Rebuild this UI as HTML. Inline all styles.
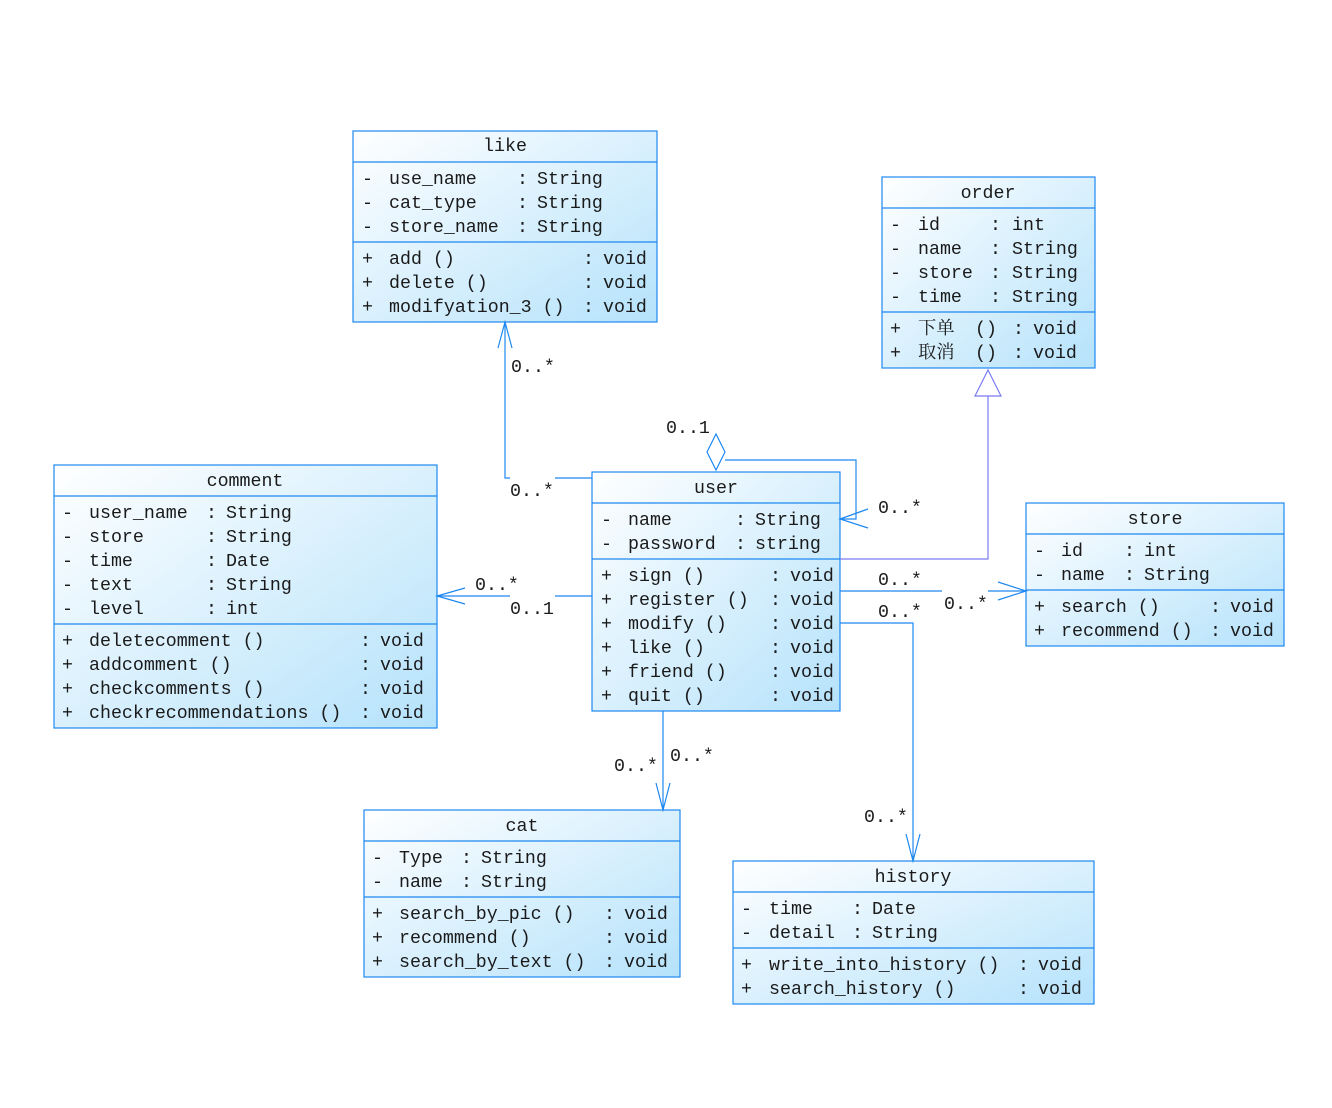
<!DOCTYPE html>
<html><head><meta charset="utf-8"><style>
html,body{margin:0;padding:0;background:#fff;width:1332px;height:1108px;overflow:hidden}
svg text{font-family:"Liberation Mono","Noto Serif CJK SC",monospace;font-size:18.3px;fill:#1a1a1a}
</style></head><body>
<svg width="1332" height="1108" xmlns="http://www.w3.org/2000/svg">
<defs>
<linearGradient id="g" x1="0" y1="0" x2="1" y2="1">
<stop offset="0" stop-color="#ffffff"/><stop offset="1" stop-color="#b5e2fb"/>
</linearGradient>
</defs>
<g stroke="#1e88f0" stroke-width="1.2" fill="url(#g)">
<rect x="353" y="131" width="304" height="191"/>
<rect x="882" y="177" width="213" height="191"/>
<rect x="54" y="465" width="383" height="263"/>
<rect x="592" y="472" width="248" height="239"/>
<rect x="1026" y="503" width="258" height="143"/>
<rect x="364" y="810" width="316" height="167"/>
<rect x="733" y="861" width="361" height="143"/>
</g>
<g stroke="#1e88f0" stroke-width="1.2" fill="none">
<path d="M353 162H657M353 242H657"/>
<path d="M882 208H1095M882 312H1095"/>
<path d="M54 496H437M54 624H437"/>
<path d="M592 503H840M592 559H840"/>
<path d="M1026 534H1284M1026 590H1284"/>
<path d="M364 841H680M364 897H680"/>
<path d="M733 892H1094M733 948H1094"/>
<!-- like-user -->
<path d="M505 322V478H510M555 478H592"/>
<path d="M498 348L505 322L512 348"/>
<!-- aggregation -->
<path d="M716 434L725 452L716 470L707 452Z" fill="#fff"/>
<path d="M725 460H856V519H840"/>
<path d="M868 509L840 519L868 528"/>
<!-- comment-user -->
<path d="M437 596H510M555 596H592"/>
<path d="M465 588L437 596L465 604"/>
<!-- user-store -->
<path d="M840 591H942M988 591H1026"/>
<path d="M998 582L1026 591L998 600"/>
<!-- user-history -->
<path d="M840 623H913V861"/>
<path d="M906 834L913 861L920 834"/>
<!-- user-cat -->
<path d="M663 711V810"/>
<path d="M656 783L663 810L670 783"/>
</g>
<g stroke="#7b7bf0" stroke-width="1.2" fill="none">
<path d="M840 559H988V396"/>
<path d="M988 370L1001 396H975Z" fill="#fff"/>
</g>
<!-- like -->
<text x="505" y="151" text-anchor="middle">like</text>
<text x="362" y="184">-</text><text x="389" y="184">use_name</text><text x="517" y="184">:</text><text x="537" y="184">String</text>
<text x="362" y="208">-</text><text x="389" y="208">cat_type</text><text x="517" y="208">:</text><text x="537" y="208">String</text>
<text x="362" y="232">-</text><text x="389" y="232">store_name</text><text x="517" y="232">:</text><text x="537" y="232">String</text>
<text x="362" y="264">+</text><text x="389" y="264">add ()</text><text x="583" y="264">:</text><text x="603" y="264">void</text>
<text x="362" y="288">+</text><text x="389" y="288">delete ()</text><text x="583" y="288">:</text><text x="603" y="288">void</text>
<text x="362" y="312">+</text><text x="389" y="312">modifyation_3 ()</text><text x="583" y="312">:</text><text x="603" y="312">void</text>
<!-- order -->
<text x="988" y="198" text-anchor="middle">order</text>
<text x="890" y="230">-</text><text x="918" y="230">id</text><text x="990" y="230">:</text><text x="1012" y="230">int</text>
<text x="890" y="254">-</text><text x="918" y="254">name</text><text x="990" y="254">:</text><text x="1012" y="254">String</text>
<text x="890" y="278">-</text><text x="918" y="278">store</text><text x="990" y="278">:</text><text x="1012" y="278">String</text>
<text x="890" y="302">-</text><text x="918" y="302">time</text><text x="990" y="302">:</text><text x="1012" y="302">String</text>
<text x="890" y="334">+</text><text x="918" y="334">下单</text><text x="975" y="334">()</text><text x="1013" y="334">:</text><text x="1033" y="334">void</text>
<text x="890" y="358">+</text><text x="918" y="358">取消</text><text x="975" y="358">()</text><text x="1013" y="358">:</text><text x="1033" y="358">void</text>
<!-- comment -->
<text x="245" y="486" text-anchor="middle">comment</text>
<text x="62" y="518">-</text><text x="89" y="518">user_name</text><text x="206" y="518">:</text><text x="226" y="518">String</text>
<text x="62" y="542">-</text><text x="89" y="542">store</text><text x="206" y="542">:</text><text x="226" y="542">String</text>
<text x="62" y="566">-</text><text x="89" y="566">time</text><text x="206" y="566">:</text><text x="226" y="566">Date</text>
<text x="62" y="590">-</text><text x="89" y="590">text</text><text x="206" y="590">:</text><text x="226" y="590">String</text>
<text x="62" y="614">-</text><text x="89" y="614">level</text><text x="206" y="614">:</text><text x="226" y="614">int</text>
<text x="62" y="646">+</text><text x="89" y="646">deletecomment ()</text><text x="360" y="646">:</text><text x="380" y="646">void</text>
<text x="62" y="670">+</text><text x="89" y="670">addcomment ()</text><text x="360" y="670">:</text><text x="380" y="670">void</text>
<text x="62" y="694">+</text><text x="89" y="694">checkcomments ()</text><text x="360" y="694">:</text><text x="380" y="694">void</text>
<text x="62" y="718">+</text><text x="89" y="718">checkrecommendations ()</text><text x="360" y="718">:</text><text x="380" y="718">void</text>
<!-- user -->
<text x="716" y="493" text-anchor="middle">user</text>
<text x="601" y="525">-</text><text x="628" y="525">name</text><text x="735" y="525">:</text><text x="755" y="525">String</text>
<text x="601" y="549">-</text><text x="628" y="549">password</text><text x="735" y="549">:</text><text x="755" y="549">string</text>
<text x="601" y="581">+</text><text x="628" y="581">sign ()</text><text x="770" y="581">:</text><text x="790" y="581">void</text>
<text x="601" y="605">+</text><text x="628" y="605">register ()</text><text x="770" y="605">:</text><text x="790" y="605">void</text>
<text x="601" y="629">+</text><text x="628" y="629">modify ()</text><text x="770" y="629">:</text><text x="790" y="629">void</text>
<text x="601" y="653">+</text><text x="628" y="653">like ()</text><text x="770" y="653">:</text><text x="790" y="653">void</text>
<text x="601" y="677">+</text><text x="628" y="677">friend ()</text><text x="770" y="677">:</text><text x="790" y="677">void</text>
<text x="601" y="701">+</text><text x="628" y="701">quit ()</text><text x="770" y="701">:</text><text x="790" y="701">void</text>
<!-- store -->
<text x="1155" y="524" text-anchor="middle">store</text>
<text x="1034" y="556">-</text><text x="1061" y="556">id</text><text x="1124" y="556">:</text><text x="1144" y="556">int</text>
<text x="1034" y="580">-</text><text x="1061" y="580">name</text><text x="1124" y="580">:</text><text x="1144" y="580">String</text>
<text x="1034" y="612">+</text><text x="1061" y="612">search ()</text><text x="1210" y="612">:</text><text x="1230" y="612">void</text>
<text x="1034" y="636">+</text><text x="1061" y="636">recommend ()</text><text x="1210" y="636">:</text><text x="1230" y="636">void</text>
<!-- cat -->
<text x="522" y="831" text-anchor="middle">cat</text>
<text x="372" y="863">-</text><text x="399" y="863">Type</text><text x="461" y="863">:</text><text x="481" y="863">String</text>
<text x="372" y="887">-</text><text x="399" y="887">name</text><text x="461" y="887">:</text><text x="481" y="887">String</text>
<text x="372" y="919">+</text><text x="399" y="919">search_by_pic ()</text><text x="604" y="919">:</text><text x="624" y="919">void</text>
<text x="372" y="943">+</text><text x="399" y="943">recommend ()</text><text x="604" y="943">:</text><text x="624" y="943">void</text>
<text x="372" y="967">+</text><text x="399" y="967">search_by_text ()</text><text x="604" y="967">:</text><text x="624" y="967">void</text>
<!-- history -->
<text x="913" y="882" text-anchor="middle">history</text>
<text x="741" y="914">-</text><text x="769" y="914">time</text><text x="852" y="914">:</text><text x="872" y="914">Date</text>
<text x="741" y="938">-</text><text x="769" y="938">detail</text><text x="852" y="938">:</text><text x="872" y="938">String</text>
<text x="741" y="970">+</text><text x="769" y="970">write_into_history ()</text><text x="1018" y="970">:</text><text x="1038" y="970">void</text>
<text x="741" y="994">+</text><text x="769" y="994">search_history ()</text><text x="1018" y="994">:</text><text x="1038" y="994">void</text>
<!-- multiplicities -->
<text x="511" y="372">0..*</text>
<text x="510" y="496">0..*</text>
<text x="666" y="433">0..1</text>
<text x="878" y="513">0..*</text>
<text x="475" y="590">0..*</text>
<text x="510" y="614">0..1</text>
<text x="878" y="585">0..*</text>
<text x="878" y="617">0..*</text>
<text x="944" y="609">0..*</text>
<text x="614" y="771">0..*</text>
<text x="670" y="761">0..*</text>
<text x="864" y="822">0..*</text>
</svg>
</body></html>
